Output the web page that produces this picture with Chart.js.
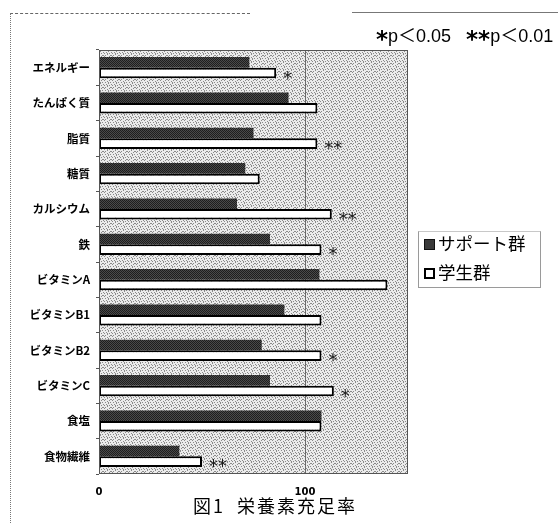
<!DOCTYPE html>
<html lang="ja">
<head>
<meta charset="utf-8">
<script src="https://cdn.jsdelivr.net/npm/chart.js@4/dist/chart.umd.min.js"></script>
<style>
  html, body { margin: 0; padding: 0; background: #fff; }
  #wrap { position: relative; width: 558px; height: 523px; overflow: hidden; }
  canvas { position: absolute; left: 0; top: 0; }
  .jp { font-family: "Noto Sans CJK JP", "Noto Sans", sans-serif; color: #000; position: absolute; white-space: nowrap; }
  #frameTopA { position: absolute; left: 10px; top: 13px; width: 240px; border-top: 1px dashed #666; }
  #frameTopB { position: absolute; left: 352px; top: 12px; width: 206px; border-top: 1px solid #777; }
  #frameLeft { position: absolute; left: 10px; top: 13px; height: 510px; border-left: 1px dotted #777; }
  #note { left: 376px; top: 21px; font-family: "Liberation Sans", "Noto Sans CJK JP", sans-serif; font-size: 18px; }
  #note .st { font-weight: bold; position: relative; top: 5px; font-family: "DejaVu Sans", sans-serif; font-size: 23px; line-height: 18px; }
  #note .lt { font-family: "Noto Sans CJK JP", sans-serif; }
  #caption { left: 193px; top: 492px; font-size: 18px; letter-spacing: 2px; }
  #legend { position: absolute; left: 418px; top: 231px; width: 121px; height: 55px; border: 1px solid #9a9a9a; border-top-color: #c8c8c8; }
  .item { position: absolute; left: 5px; font-size: 17.5px; line-height: 22px; }
  .item .sw { display: inline-block; width: 11px; height: 11px; margin-right: 3px; vertical-align: 0px; box-sizing: border-box; }
</style>
</head>
<body>
<div id="wrap">
  <canvas id="chart" width="558" height="523"></canvas>
  <div id="frameTopA"></div>
  <div id="frameTopB"></div>
  <div id="frameLeft"></div>
  <div id="note" class="jp"><span class="st">*</span>p<span class="lt">＜</span>0.05&nbsp;&nbsp;&nbsp;<span class="st">**</span>p<span class="lt">＜</span>0.01</div>
  <div id="legend">
    <div class="item jp" style="top:0px"><span class="sw" style="background:#3a3a3a;border:1px solid #111"></span>サポート群</div>
    <div class="item jp" style="top:29px"><span class="sw" style="background:#fff;border:2px solid #000"></span>学生群</div>
  </div>
  <div id="caption" class="jp">図1&nbsp;&nbsp;栄養素充足率</div>
</div>
<script>
// nutrients on the vertical axis
const categories = ['エネルギー', 'たんぱく質', '脂質', '糖質', 'カルシウム', '鉄',
  'ビタミンA', 'ビタミンB1', 'ビタミンB2', 'ビタミンC', '食塩', '食物繊維'];
// sufficiency rate (%) per group
const supportValues = [73, 92, 75, 71, 67, 83, 107, 90, 79, 83, 108, 39];
const studentValues = [86, 106, 106, 78, 113, 108, 140, 108, 108, 114, 108, 50];
// significance marks shown after the student bars
const significance = ['*', '', '**', '', '**', '*', '', '', '*', '*', '', '**'];
// labelled ticks on the value axis
const xTickValues = [0, 100];
const seriesNames = ['サポート群', '学生群'];

// small tiled textures for the plot background and the dark bars
function makePattern(size, base, dot, test) {
  const c = document.createElement('canvas');
  c.width = size; c.height = size;
  const g = c.getContext('2d');
  g.fillStyle = base; g.fillRect(0, 0, size, size);
  g.fillStyle = dot;
  for (let y = 0; y < size; y++) {
    for (let x = 0; x < size; x++) {
      if (test(x, y)) g.fillRect(x, y, 1, 1);
    }
  }
  return g.createPattern(c, 'repeat');
}
const ctx = document.getElementById('chart').getContext('2d');
const bgPattern = makePattern(8, '#ebebeb', '#8a8a8a', (x, y) => ((x + 2 * y) % 5 === 0) || ((3 * x + y) % 7 === 0 && (x + y) % 2 === 0));
const darkPattern = makePattern(4, '#4a4a4a', '#1e1e1e', (x, y) => (x + y) % 2 === 0);

const plotDecor = {
  id: 'plotDecor',
  beforeDatasetsDraw(chart) {
    const a = chart.chartArea, c = chart.ctx;
    c.save();
    c.fillStyle = bgPattern;
    c.fillRect(a.left, a.top, a.right - a.left, a.bottom - a.top);
    // reference line at 100 %
    const x100 = chart.scales.x.getPixelForValue(100);
    c.strokeStyle = '#6a6a6a';
    c.lineWidth = 1;
    c.beginPath();
    c.moveTo(Math.round(x100) + 0.5, a.top);
    c.lineTo(Math.round(x100) + 0.5, a.bottom);
    c.stroke();
    c.restore();
  },
  afterDatasetsDraw(chart) {
    const a = chart.chartArea, c = chart.ctx;
    c.save();
    c.strokeStyle = '#555';
    c.lineWidth = 1;
    c.strokeRect(a.left + 0.5, a.top + 0.5, a.right - a.left - 1, a.bottom - a.top - 1);
    // significance asterisks
    const meta = chart.getDatasetMeta(1);
    c.fillStyle = '#1a1a1a';
    c.font = '18px "DejaVu Sans"';
    c.textAlign = 'left';
    c.textBaseline = 'middle';
    meta.data.forEach((bar, i) => {
      const mark = significance[i];
      if (!mark) return;
      const x = chart.scales.x.getPixelForValue(studentValues[i]) + 7;
      c.fillText(mark, x, bar.y + 6);
    });
    c.restore();
  }
};

new Chart(ctx, {
  type: 'bar',
  data: {
    labels: categories,
    datasets: [
      {
        label: seriesNames[0],
        data: supportValues,
        backgroundColor: darkPattern,
        borderColor: '#2a2a2a',
        borderWidth: 0
      },
      {
        label: seriesNames[1],
        data: studentValues,
        backgroundColor: '#ffffff',
        borderColor: '#000000',
        borderWidth: 2,
        borderSkipped: false
      }
    ]
  },
  plugins: [plotDecor],
  options: {
    indexAxis: 'y',
    responsive: false,
    animation: false,
    devicePixelRatio: 1,
    categoryPercentage: 0.6,
    barPercentage: 1.0,
    layout: { padding: { left: 0, right: 150, top: 50, bottom: 0 } },
    plugins: {
      legend: { display: false },
      tooltip: { enabled: false },
      title: { display: false }
    },
    scales: {
      x: {
        min: 0,
        max: 150,
        afterBuildTicks(scale) {
          scale.ticks = xTickValues.map(v => ({ value: v }));
        },
        afterFit(scale) { scale.height = 49; },
        grid: { display: false, drawTicks: false },
        border: { display: false },
        ticks: {
          padding: 12,
          color: '#000',
          font: { family: '"DejaVu Sans", sans-serif', size: 10, weight: 'bold' }
        }
      },
      y: {
        afterFit(scale) { scale.width = 99; },
        grid: { display: true, drawOnChartArea: false, offset: true, tickLength: 3, color: '#555' },
        border: { display: false },
        ticks: {
          padding: 6,
          color: '#000',
          font: { family: '"Noto Sans CJK JP", sans-serif', size: 11.5, weight: 'bold' }
        }
      }
    }
  }
});
</script>
</body>
</html>
